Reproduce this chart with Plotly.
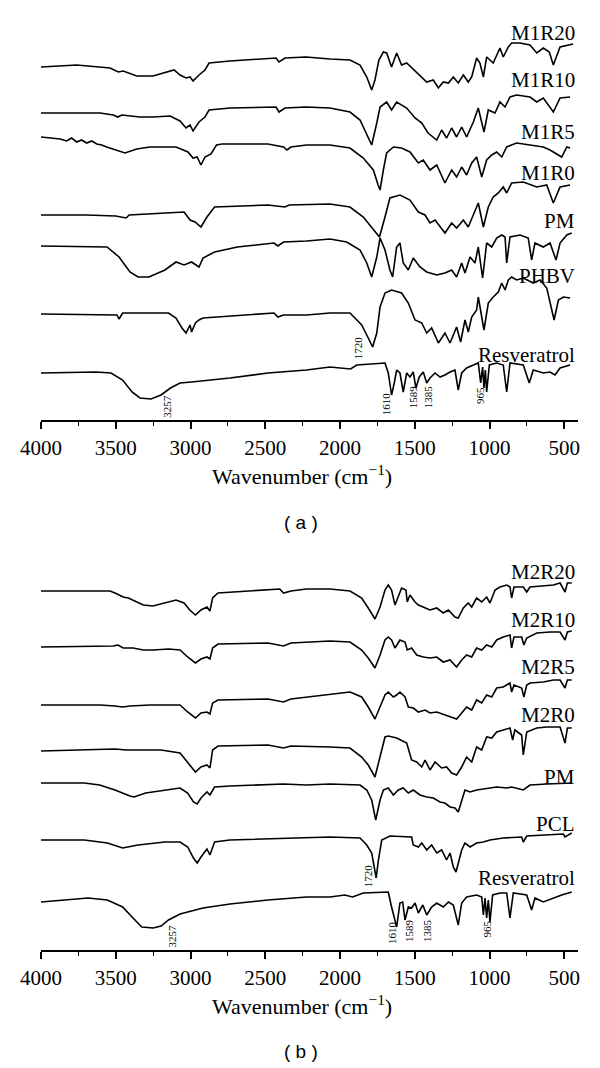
import plotly.graph_objects as go

# ---------------- Panel (a) spectra: wavenumber (cm-1) and stacked transmittance (a.u.)
a_m1r20_wn = [4000, 3761, 3538, 3483, 3450, 3360, 3251, 3110, 3070, 3030, 3003, 2983, 2943, 2903, 2876, 2736, 2428, 2408, 2368, 2227, 2067, 1933, 1866, 1821, 1788, 1766, 1740, 1710, 1688, 1655, 1621, 1588, 1554, 1487, 1453, 1420, 1376, 1342, 1309, 1275, 1242, 1209, 1175, 1142, 1119, 1086, 1064, 1041, 1019, 975, 930, 908, 874, 852, 796, 729, 684, 640, 600, 573, 528, 461, 441]
a_m1r20_t = [353, 355, 352, 348, 349, 344, 344, 350, 345, 342, 343, 339, 345, 350, 357, 359, 362, 358, 362, 363, 361, 360, 355, 343, 330, 340, 360, 368, 367, 353, 367, 355, 357, 348, 343, 338, 340, 332, 338, 337, 343, 337, 345, 338, 343, 362, 357, 343, 363, 357, 372, 363, 373, 377, 377, 375, 367, 372, 368, 355, 373, 375, 376]

a_m1r10_wn = [4000, 3605, 3516, 3487, 3460, 3338, 3251, 3137, 3070, 3030, 3003, 2983, 2943, 2903, 2876, 2736, 2428, 2408, 2368, 2227, 2067, 1933, 1866, 1821, 1788, 1754, 1732, 1688, 1655, 1621, 1588, 1554, 1498, 1453, 1411, 1353, 1320, 1287, 1253, 1220, 1186, 1153, 1108, 1075, 1037, 1008, 963, 930, 896, 863, 819, 729, 684, 640, 573, 528, 461]
a_m1r10_t = [307, 307, 305, 303, 305, 303, 303, 304, 299, 292, 295, 289, 298, 303, 310, 312, 313, 308, 312, 313, 312, 308, 300, 285, 275, 297, 313, 318, 310, 318, 315, 312, 302, 297, 287, 280, 290, 282, 292, 283, 293, 283, 298, 312, 288, 310, 307, 318, 313, 323, 325, 323, 318, 322, 308, 322, 323]

a_m1r5_wn = [4000, 3940, 3873, 3828, 3795, 3761, 3728, 3694, 3661, 3627, 3594, 3561, 3500, 3438, 3360, 3271, 3097, 3017, 2983, 2956, 2930, 2903, 2863, 2826, 2789, 2482, 2378, 2355, 2328, 2224, 2067, 1933, 1844, 1777, 1745, 1732, 1710, 1688, 1643, 1588, 1532, 1476, 1443, 1398, 1353, 1298, 1253, 1220, 1186, 1153, 1119, 1086, 1052, 1019, 985, 952, 918, 885, 819, 729, 640, 595, 517, 483, 461]
a_m1r5_t = [283, 282, 281, 279, 282, 278, 280, 277, 279, 276, 275, 273, 270, 267, 271, 273, 273, 268, 262, 263, 255, 263, 266, 275, 276, 276, 273, 270, 273, 275, 275, 272, 262, 250, 235, 230, 250, 267, 273, 272, 268, 257, 260, 250, 255, 237, 250, 243, 253, 245, 257, 263, 243, 260, 265, 268, 263, 273, 277, 275, 273, 270, 263, 273, 272]

a_m1r0_wn = [4000, 3700, 3500, 3431, 3410, 3200, 3043, 3003, 2970, 2930, 2890, 2839, 2482, 2368, 2340, 2067, 1933, 1844, 1777, 1736, 1699, 1666, 1599, 1532, 1476, 1431, 1398, 1364, 1298, 1253, 1220, 1175, 1142, 1108, 1075, 1041, 1008, 975, 941, 908, 885, 852, 774, 684, 617, 573, 528, 461]
a_m1r0_t = [205, 205, 204, 202, 205, 207, 208, 200, 198, 193, 203, 213, 215, 213, 215, 216, 213, 203, 190, 183, 203, 222, 225, 220, 208, 205, 197, 200, 187, 197, 192, 200, 193, 205, 217, 193, 213, 223, 227, 233, 227, 237, 238, 233, 235, 217, 233, 235]

a_pm_wn = [4000, 3558, 3478, 3405, 3351, 3278, 3171, 3097, 3043, 2993, 2943, 2916, 2839, 2686, 2442, 2415, 2378, 2224, 2067, 1955, 1866, 1821, 1788, 1754, 1732, 1699, 1666, 1648, 1621, 1599, 1577, 1543, 1510, 1465, 1420, 1353, 1298, 1253, 1220, 1186, 1164, 1130, 1097, 1075, 1046, 1019, 985, 952, 918, 896, 885, 863, 796, 741, 718, 696, 640, 595, 555, 528, 483, 450]
a_pm_t = [174, 173, 163, 148, 143, 143, 150, 158, 155, 158, 153, 162, 168, 173, 177, 174, 178, 179, 181, 178, 170, 157, 143, 163, 182, 170, 150, 143, 173, 177, 157, 150, 162, 153, 148, 145, 147, 150, 143, 157, 147, 163, 157, 173, 142, 177, 173, 182, 185, 183, 157, 183, 185, 182, 160, 177, 173, 177, 160, 177, 185, 187]

a_phbv_wn = [4000, 3686, 3492, 3478, 3454, 3147, 3097, 3057, 3030, 3003, 2993, 2967, 2943, 2916, 2482, 2442, 2415, 2378, 2224, 2067, 1933, 1855, 1811, 1782, 1754, 1732, 1699, 1655, 1588, 1543, 1498, 1453, 1420, 1387, 1342, 1298, 1264, 1220, 1193, 1164, 1142, 1119, 1086, 1075, 1037, 1008, 975, 941, 918, 896, 874, 852, 819, 774, 707, 662, 617, 568, 539, 506, 461]
a_phbv_t = [106, 105, 105, 101, 107, 107, 102, 92, 87, 95, 88, 97, 100, 102, 107, 107, 103, 105, 105, 107, 107, 95, 82, 73, 87, 113, 127, 130, 127, 117, 100, 97, 87, 92, 77, 87, 77, 93, 78, 100, 88, 103, 110, 123, 90, 117, 123, 128, 137, 130, 140, 143, 140, 142, 137, 140, 132, 100, 120, 123, 122]

a_res_wn = [4000, 3632, 3532, 3454, 3391, 3338, 3264, 3197, 3134, 3070, 2993, 2736, 2482, 2224, 2067, 1929, 1888, 1699, 1677, 1655, 1637, 1621, 1599, 1577, 1554, 1532, 1510, 1492, 1470, 1443, 1420, 1398, 1364, 1331, 1298, 1264, 1231, 1209, 1186, 1153, 1108, 1075, 1059, 1046, 1037, 1028, 1019, 1001, 952, 908, 885, 863, 774, 734, 707, 640, 595, 562, 528, 461]
a_res_t = [47, 48, 47, 40, 28, 22, 21, 25, 32, 37, 38, 42, 47, 50, 53, 51, 55, 57, 47, 25, 37, 50, 47, 28, 47, 43, 48, 32, 43, 48, 37, 42, 47, 43, 45, 48, 50, 30, 47, 52, 55, 57, 37, 53, 32, 50, 28, 55, 57, 55, 28, 57, 55, 37, 50, 47, 48, 45, 52, 55]

# ---------------- Panel (b) spectra
b_m2r20_wn = [4000, 3538, 3505, 3450, 3416, 3360, 3316, 3251, 3147, 3097, 3043, 3005, 2967, 2930, 2890, 2870, 2852, 2816, 2609, 2403, 2378, 2328, 2224, 2067, 1933, 1855, 1811, 1766, 1732, 1699, 1677, 1655, 1632, 1610, 1588, 1559, 1550, 1532, 1498, 1476, 1443, 1398, 1353, 1309, 1275, 1231, 1209, 1175, 1142, 1119, 1086, 1052, 1019, 997, 963, 930, 885, 863, 852, 836, 774, 751, 729, 640, 573, 528, 495, 479, 450]
b_m2r20_t = [359, 359, 357, 353, 352, 348, 345, 344, 348, 350, 347, 340, 335, 340, 343, 339, 352, 357, 359, 361, 357, 359, 361, 361, 359, 352, 342, 331, 343, 360, 365, 360, 345, 353, 362, 360, 348, 355, 348, 345, 343, 340, 342, 337, 340, 333, 332, 342, 347, 343, 352, 348, 353, 347, 360, 363, 365, 363, 352, 363, 363, 358, 363, 364, 365, 367, 358, 367, 367]

b_m2r10_wn = [4000, 3518, 3485, 3450, 3384, 3316, 3251, 3147, 3070, 3019, 2967, 2930, 2890, 2870, 2852, 2816, 2482, 2378, 2328, 2067, 1933, 1855, 1811, 1766, 1732, 1699, 1677, 1655, 1632, 1599, 1565, 1550, 1521, 1487, 1443, 1398, 1353, 1309, 1264, 1220, 1186, 1153, 1119, 1086, 1052, 1019, 985, 952, 908, 863, 852, 836, 785, 770, 751, 684, 595, 528, 495, 479, 450]
b_m2r10_t = [303, 304, 305, 302, 302, 300, 300, 301, 300, 293, 287, 291, 293, 291, 302, 306, 307, 304, 307, 309, 308, 300, 292, 282, 295, 310, 313, 310, 302, 310, 308, 300, 302, 295, 293, 292, 293, 288, 290, 283, 290, 295, 293, 302, 300, 305, 303, 310, 313, 315, 302, 313, 313, 305, 312, 317, 318, 318, 310, 318, 319]

b_m2r5_wn = [4000, 3605, 3505, 3454, 3405, 3271, 3070, 3019, 2967, 2930, 2890, 2870, 2852, 2816, 2482, 2378, 2328, 2067, 1933, 1855, 1811, 1766, 1732, 1699, 1677, 1643, 1621, 1599, 1565, 1543, 1510, 1476, 1431, 1398, 1353, 1298, 1253, 1220, 1186, 1153, 1119, 1086, 1052, 1019, 985, 952, 908, 863, 852, 836, 785, 770, 751, 729, 640, 573, 528, 495, 479, 450]
b_m2r5_t = [245, 245, 244, 243, 244, 245, 245, 238, 232, 237, 238, 236, 247, 250, 251, 248, 251, 256, 258, 253, 243, 231, 243, 255, 258, 253, 255, 258, 253, 243, 242, 238, 240, 237, 238, 235, 233, 231, 237, 243, 240, 250, 247, 255, 253, 262, 263, 267, 258, 265, 262, 253, 265, 267, 268, 270, 270, 262, 270, 270]

b_m2r0_wn = [4000, 3505, 3429, 3197, 3070, 3019, 2967, 2930, 2890, 2870, 2852, 2816, 2482, 2378, 2328, 2067, 1933, 1855, 1811, 1766, 1732, 1699, 1677, 1621, 1554, 1521, 1487, 1453, 1431, 1398, 1364, 1320, 1287, 1253, 1220, 1186, 1153, 1119, 1086, 1052, 1019, 985, 952, 908, 863, 845, 830, 785, 774, 751, 684, 617, 528, 495, 479, 450]
b_m2r0_t = [199, 201, 200, 200, 197, 187, 178, 183, 185, 182, 200, 204, 205, 202, 204, 203, 202, 193, 185, 173, 193, 213, 214, 212, 207, 190, 188, 183, 190, 180, 188, 182, 183, 177, 175, 183, 193, 188, 203, 200, 213, 212, 218, 220, 222, 210, 220, 215, 195, 218, 222, 223, 223, 207, 222, 222]

b_pm_wn = [4000, 3710, 3608, 3505, 3405, 3378, 3300, 3172, 3070, 3019, 2980, 2955, 2930, 2890, 2870, 2839, 2736, 2378, 2224, 2067, 1866, 1821, 1788, 1761, 1732, 1710, 1677, 1643, 1610, 1577, 1543, 1510, 1465, 1420, 1376, 1331, 1298, 1264, 1231, 1209, 1186, 1164, 1130, 1086, 997, 952, 885, 852, 774, 729, 617, 506, 450]
b_pm_t = [167, 167, 165, 160, 154, 153, 157, 160, 162, 157, 148, 146, 152, 158, 155, 163, 164, 166, 165, 166, 165, 160, 150, 130, 150, 160, 162, 155, 160, 162, 157, 160, 155, 153, 152, 148, 147, 143, 142, 138, 150, 160, 158, 160, 162, 163, 162, 163, 160, 165, 166, 167, 167]

b_pcl_wn = [4000, 3710, 3556, 3454, 3351, 3172, 3070, 3019, 2980, 2955, 2930, 2890, 2870, 2839, 2736, 2378, 2067, 1866, 1821, 1788, 1771, 1758, 1743, 1721, 1666, 1521, 1510, 1476, 1453, 1420, 1387, 1353, 1320, 1287, 1264, 1242, 1224, 1209, 1186, 1164, 1130, 1086, 1041, 997, 908, 785, 774, 751, 617, 506, 495, 450]
b_pcl_t = [110, 110, 107, 102, 105, 108, 108, 103, 92, 87, 93, 101, 95, 108, 110, 112, 113, 112, 105, 97, 83, 72, 90, 110, 114, 113, 105, 103, 107, 100, 105, 97, 100, 90, 97, 83, 78, 87, 100, 107, 103, 107, 108, 110, 112, 113, 108, 114, 115, 116, 113, 117]

b_res_wn = [4000, 3686, 3556, 3454, 3391, 3326, 3249, 3197, 3147, 3070, 3019, 2916, 2736, 2482, 2224, 2067, 1968, 1916, 1844, 1677, 1655, 1632, 1621, 1599, 1581, 1565, 1543, 1521, 1498, 1476, 1446, 1420, 1387, 1353, 1309, 1275, 1242, 1209, 1186, 1153, 1086, 1052, 1041, 1030, 1019, 1008, 997, 979, 930, 885, 863, 841, 751, 718, 696, 640, 573, 517, 450]
b_res_t = [48, 52, 50, 43, 33, 23, 22, 24, 30, 36, 38, 42, 46, 50, 53, 53, 55, 53, 57, 58, 43, 28, 23, 47, 48, 30, 43, 42, 47, 37, 45, 35, 43, 47, 43, 48, 45, 25, 47, 53, 55, 53, 35, 52, 32, 50, 28, 55, 57, 57, 32, 57, 55, 40, 52, 48, 52, 55, 58]

# sample names
a_names = ["M1R20", "M1R10", "M1R5", "M1R0", "PM", "PHBV", "Resveratrol"]
b_names = ["M2R20", "M2R10", "M2R5", "M2R0", "PM", "PCL", "Resveratrol"]

# marked peaks
peak_labels = ["3257", "1720", "1610", "1589", "1385", "965"]
a_peak_wn = [3159, 1878, 1690, 1510, 1410, 1063]
a_peak_y = [14, 72, 16, 23, 23, 24]
b_peak_wn = [3124, 1811, 1655, 1538, 1418, 1020]
b_peak_y = [14.5, 74, 17.5, 19, 19, 21]

tick_vals = [4000, 3500, 3000, 2500, 2000, 1500, 1000, 500]
minor_vals = [3750, 3250, 2750, 2250, 1750, 1250, 750]

a_spectra = [(a_m1r20_wn, a_m1r20_t), (a_m1r10_wn, a_m1r10_t), (a_m1r5_wn, a_m1r5_t),
             (a_m1r0_wn, a_m1r0_t), (a_pm_wn, a_pm_t), (a_phbv_wn, a_phbv_t), (a_res_wn, a_res_t)]
b_spectra = [(b_m2r20_wn, b_m2r20_t), (b_m2r10_wn, b_m2r10_t), (b_m2r5_wn, b_m2r5_t),
             (b_m2r0_wn, b_m2r0_t), (b_pm_wn, b_pm_t), (b_pcl_wn, b_pcl_t), (b_res_wn, b_res_t)]

W, H = 600, 1068
SERIF = "Liberation Serif, DejaVu Serif, serif"
SANS = "Liberation Sans, Arial, sans-serif"

fig = go.Figure()
for name, (wn, t) in zip(a_names, a_spectra):
    fig.add_trace(go.Scatter(x=wn, y=t, mode="lines", name=name, xaxis="x", yaxis="y",
                             line=dict(color="black", width=1.6), showlegend=False, hoverinfo="skip"))
for name, (wn, t) in zip(b_names, b_spectra):
    fig.add_trace(go.Scatter(x=wn, y=t, mode="lines", name=name, xaxis="x2", yaxis="y2",
                             line=dict(color="black", width=1.6), showlegend=False, hoverinfo="skip"))

def xaxis_style(anchor):
    return dict(
        domain=[41 / W, 578 / W], range=[4000, 408], anchor=anchor, automargin=False,
        showline=True, linecolor="black", linewidth=1.5, mirror=False,
        ticks="outside", ticklen=7, tickwidth=1.5, tickcolor="black",
        tickmode="array", tickvals=tick_vals, ticktext=[str(v) for v in tick_vals],
        tickfont=dict(family=SERIF, size=21, color="black"),
        showgrid=False, zeroline=False, ticklabelstandoff=1,
        minor=dict(tickmode="array", tickvals=minor_vals, ticks="outside", ticklen=4,
                   tickwidth=1.2, tickcolor="black", showgrid=False),
    )

def py(px):
    return 1 - px / H

fig.update_layout(
    width=W, height=H, autosize=False, margin=dict(l=0, r=0, t=0, b=0, pad=0),
    paper_bgcolor="white", plot_bgcolor="white",
    xaxis=xaxis_style("y"),
    yaxis=dict(domain=[py(420), py(20)], range=[0, 400], visible=False),
    xaxis2=xaxis_style("y2"),
    yaxis2=dict(domain=[py(950), py(550)], range=[0, 400], visible=False),
)

ann = []
a_label_px = [32.5, 80, 132, 173, 220.5, 276, 355]
b_label_px = [571.7, 619.5, 666.7, 715, 777, 824, 877.5]
for names, pys in ((a_names, a_label_px), (b_names, b_label_px)):
    for n, yp in zip(names, pys):
        ann.append(dict(text=n, xref="paper", yref="paper", x=577 / W, y=py(yp),
                        xanchor="right", yanchor="middle", showarrow=False,
                        font=dict(family=SERIF, size=21, color="black")))
for xr, yr, wns, ys in (("x", "y", a_peak_wn, a_peak_y), ("x2", "y2", b_peak_wn, b_peak_y)):
    for lab, w_, y_ in zip(peak_labels, wns, ys):
        ann.append(dict(text=lab, xref=xr, yref=yr, x=w_, y=y_, textangle=-90,
                        xanchor="center", yanchor="middle", showarrow=False,
                        font=dict(family=SERIF, size=11, color="black")))
for yp in (475, 1005):
    ann.append(dict(text="Wavenumber (cm<sup>−1</sup>)", xref="paper", yref="paper",
                    x=302 / W, y=py(yp), xanchor="center", yanchor="middle", showarrow=False,
                    font=dict(family=SERIF, size=22, color="black")))
for txt, yp in (("( a )", 523), ("( b )", 1051)):
    ann.append(dict(text=txt, xref="paper", yref="paper", x=301 / W, y=py(yp),
                    xanchor="center", yanchor="middle", showarrow=False,
                    font=dict(family=SANS, size=19, color="black")))
fig.update_layout(annotations=ann)

fig.write_html("out.html", config={"displayModeBar": False},
               post_script="document.body.style.margin='0';document.body.style.overflow='hidden';")
